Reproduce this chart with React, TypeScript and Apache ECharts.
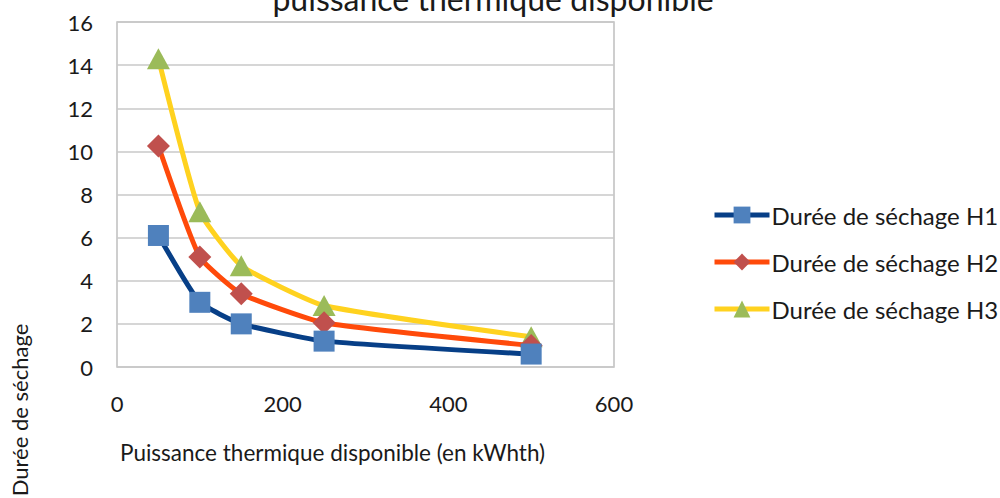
import React, { useEffect, useRef } from "react";
import * as echarts from "echarts";

const xValues = [50, 100, 150, 250, 500];
const seriesNames = ["Durée de séchage H1", "Durée de séchage H2", "Durée de séchage H3"];
const h1 = [6.1, 3.0, 2.0, 1.2, 0.6];
const h2 = [10.25, 5.1, 3.4, 2.05, 1.0];
const h3 = [14.3, 7.2, 4.7, 2.85, 1.4];
const titleText = "puissance thermique disponible";
const xAxisName = "Puissance thermique disponible (en kWhth)";
const yAxisName = "Durée de séchage";

const FONT = "Lato, 'Open Sans', sans-serif";

export default function App() {
  const ref = useRef<HTMLDivElement>(null);
  useEffect(() => {
    if (!ref.current) return;
    const chart = echarts.init(ref.current, undefined, { renderer: "svg" });
    const mk = (vals: number[]) => xValues.map((x, i) => [x, vals[i]]);
    chart.setOption({
      animation: false,
      backgroundColor: "#ffffff",
      textStyle: { fontFamily: FONT },
      grid: { left: 117, right: 386, top: 22, bottom: 131, show: true, borderColor: "#bfbfbf", borderWidth: 1.5 },
      xAxis: {
        type: "value",
        min: 0,
        max: 600,
        interval: 200,
        axisLine: { show: false },
        axisTick: { show: false },
        splitLine: { show: false },
        axisLabel: { fontSize: 22, color: "#1a1a1a", margin: 25, fontFamily: FONT },
      },
      yAxis: {
        type: "value",
        min: 0,
        max: 16,
        interval: 2,
        axisLine: { show: false },
        axisTick: { show: false },
        splitLine: { lineStyle: { color: "#c8c8c8", width: 1.5 } },
        axisLabel: { fontSize: 22, color: "#1a1a1a", margin: 24, fontFamily: FONT },
      },
      legend: {
        orient: "vertical",
        left: 707,
        top: 198,
        itemWidth: 55,
        itemHeight: 21,
        itemGap: 23,
        lineStyle: { width: 5 },
        textStyle: { fontSize: 24, color: "#1a1a1a", fontFamily: FONT, padding: [0, 0, 0, -3] },
        data: seriesNames,
      },
      graphic: [
        {
          type: "text",
          x: 493,
          y: 14,
          style: { text: titleText, font: `32px ${FONT}`, fill: "#1a1a1a", align: "center", verticalAlign: "bottom" },
        },
        {
          type: "text",
          x: 120,
          y: 452,
          style: { text: xAxisName, font: `22.5px ${FONT}`, fill: "#1a1a1a", align: "left", verticalAlign: "middle" },
        },
        {
          type: "text",
          x: 19,
          y: 410,
          rotation: Math.PI / 2,
          style: { text: yAxisName, font: `22px ${FONT}`, fill: "#1a1a1a", align: "center", verticalAlign: "middle" },
        },
      ],
      series: [
        {
          name: seriesNames[0],
          type: "line",
          data: mk(h1),
          smooth: 0.15,
          symbol: "rect",
          symbolSize: 21,
          lineStyle: { color: "#073f87", width: 5 },
          itemStyle: { color: "#4f81bd" },
          z: 3,
        },
        {
          name: seriesNames[1],
          type: "line",
          data: mk(h2),
          smooth: 0.15,
          symbol: "diamond",
          symbolSize: 23,
          lineStyle: { color: "#ff4a0a", width: 5 },
          itemStyle: { color: "#c0504d" },
          z: 2,
        },
        {
          name: seriesNames[2],
          type: "line",
          data: mk(h3),
          smooth: 0.15,
          symbol: "triangle",
          symbolSize: [23, 21],
          lineStyle: { color: "#ffd21f", width: 5 },
          itemStyle: { color: "#9bbb59" },
          z: 1,
        },
      ],
    });
    return () => chart.dispose();
  }, []);
  return (
    <div
      ref={ref}
      style={{ position: "absolute", left: 0, top: 0, width: 1000, height: 498 }}
    />
  );
}
